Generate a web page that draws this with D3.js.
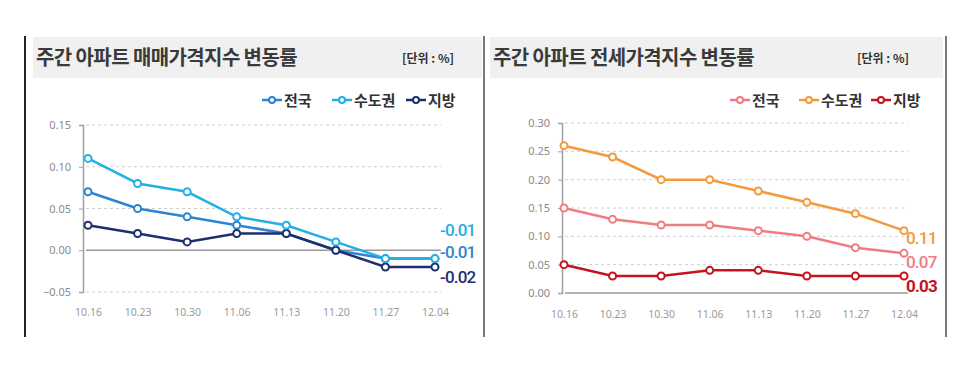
<!DOCTYPE html>
<html>
<head>
<meta charset="utf-8">
<script src="https://cdn.jsdelivr.net/npm/d3@7"></script>
<style>
  body { margin: 0; background: #fff; }
  text { font-family: "Noto Sans CJK KR", "Noto Sans", sans-serif; }
</style>
</head>
<body>
<script>
// dates shared by both charts
const dates = ["10.16", "10.23", "10.30", "11.06", "11.13", "11.20", "11.27", "12.04"]
const seriesNames = ["전국", "수도권", "지방"]

// 매매 (sale) weekly change, %
const saleNational = [0.07, 0.05, 0.04, 0.03, 0.02, 0.00, -0.01, -0.01]
const saleCapital  = [0.11, 0.08, 0.07, 0.04, 0.03, 0.01, -0.01, -0.01]
const saleLocal    = [0.03, 0.02, 0.01, 0.02, 0.02, 0.00, -0.02, -0.02]
const saleTicks = [0.15, 0.10, 0.05, 0.00, -0.05]
const saleEndLabels = ["-0.01", "-0.01", "-0.02"]

// 전세 (jeonse) weekly change, %
const rentNational = [0.15, 0.13, 0.12, 0.12, 0.11, 0.10, 0.08, 0.07]
const rentCapital  = [0.26, 0.24, 0.20, 0.20, 0.18, 0.16, 0.14, 0.11]
const rentLocal    = [0.05, 0.03, 0.03, 0.04, 0.04, 0.03, 0.03, 0.03]
const rentTicks = [0.30, 0.25, 0.20, 0.15, 0.10, 0.05, 0.00]
const rentEndLabels = ["0.11", "0.07", "0.03"]

width = 968
height = 369

svg = d3.select("body")
    .append("svg")
    .attr("width", width)
    .attr("height", height)

// frame lines
svg.append("rect").attr("x", 24).attr("y", 36).attr("width", 2).attr("height", 301).attr("fill", "#222")
svg.append("rect").attr("x", 483).attr("y", 36).attr("width", 2).attr("height", 301).attr("fill", "#777")
svg.append("rect").attr("x", 945).attr("y", 36).attr("width", 2).attr("height", 301).attr("fill", "#777")

function drawPanel(opt) {
    let g = svg.append("g")

    // title band
    g.append("rect")
        .attr("x", opt.bandX).attr("y", 37)
        .attr("width", opt.bandW).attr("height", 41)
        .attr("fill", "#f0f0f0")
    g.append("text")
        .attr("x", opt.bandX + 3).attr("y", 65)
        .attr("font-size", 20).attr("font-weight", 700)
        .attr("letter-spacing", -0.6)
        .attr("fill", "#3a3a3a")
        .text(opt.title)
    g.append("text")
        .attr("x", opt.unitX).attr("y", 63)
        .attr("font-size", 12).attr("font-weight", 700)
        .attr("fill", "#333")
        .text("[단위 : %]")

    let xScale = d3.scalePoint().domain(dates).range(opt.xRange)
    let yScale = d3.scaleLinear().domain(opt.yDomain).range(opt.yRange)

    // gridlines
    g.selectAll(".grid")
        .data(opt.ticks)
        .enter()
        .append("line")
        .attr("x1", opt.axisX + 3).attr("x2", opt.gridEnd)
        .attr("y1", d => yScale(d)).attr("y2", d => yScale(d))
        .attr("stroke", d => d == 0 ? "#9a9a9a" : "#cfcfcf")
        .attr("stroke-width", d => d == 0 ? 1.5 : 1)
        .attr("stroke-dasharray", d => d == 0 ? null : "3,3")

    // y axis
    let yAxis = d3.axisLeft(yScale).tickValues(opt.ticks).tickSize(4).tickFormat(d3.format(".2f"))
    let ya = g.append("g")
        .attr("transform", "translate(" + opt.axisX + ",0)")
        .call(yAxis)
    ya.select(".domain").attr("stroke", "#a0a0a0").attr("stroke-width", 1.5)
    ya.selectAll(".tick line").attr("stroke", "#a0a0a0")
    ya.selectAll(".tick text")
        .attr("fill", "#8a8a8a").attr("font-size", 11)
        .attr("x", -12)
        .style("font-family", "'Noto Sans', sans-serif")

    // x labels
    let xAxis = d3.axisBottom(xScale).tickSize(0).tickPadding(0)
    let xa = g.append("g")
        .attr("transform", "translate(0," + opt.xLabelY + ")")
        .call(xAxis)
    xa.select(".domain").remove()
    xa.selectAll(".tick text")
        .attr("fill", "#9a9a9a").attr("font-size", 10.5)
        .attr("dy", 0)
        .style("font-family", "'Noto Sans', sans-serif")

    // lines
    let line = d3.line()
        .x((d, i) => xScale(dates[i]))
        .y(d => yScale(d))

    opt.order.forEach(function(k) {
        let vals = opt.series[k]
        g.append("path")
            .datum(vals)
            .attr("d", line)
            .attr("fill", "none")
            .attr("stroke", opt.colors[k])
            .attr("stroke-width", 2.5)
        g.selectAll("empty")
            .data(vals)
            .enter()
            .append("circle")
            .attr("cx", (d, i) => xScale(dates[i]))
            .attr("cy", d => yScale(d))
            .attr("r", 3.5)
            .attr("fill", "#fff")
            .attr("stroke", opt.colors[k])
            .attr("stroke-width", 2)
    })

    // end labels
    opt.endLabels.forEach(function(t, i) {
        g.append("text")
            .attr("x", opt.endX).attr("y", opt.endY[i])
            .attr("font-size", 17)
            .attr("font-weight", i == 2 && opt.boldLast ? 700 : 500)
            .attr("letter-spacing", -0.8)
            .attr("fill", opt.colors[opt.endOrder[i]])
            .style("font-family", "'Liberation Sans Narrow', 'Roboto', sans-serif")
            .text(t)
    })

    // legend
    seriesNames.forEach(function(name, i) {
        let lx = opt.legendX[i]
        g.append("line")
            .attr("x1", lx).attr("x2", lx + 20)
            .attr("y1", 100).attr("y2", 100)
            .attr("stroke", opt.colors[i]).attr("stroke-width", 2.5)
        g.append("circle")
            .attr("cx", lx + 10).attr("cy", 100).attr("r", 3)
            .attr("fill", "#fff")
            .attr("stroke", opt.colors[i]).attr("stroke-width", 2)
        g.append("text")
            .attr("x", lx + 22).attr("y", 105.5)
            .attr("font-size", 15).attr("font-weight", 700)
            .attr("fill", "#333")
            .text(name)
    })
}

drawPanel({
    title: "주간 아파트 매매가격지수 변동률",
    bandX: 33, bandW: 449, unitX: 402,
    xRange: [88, 435], yDomain: [-0.05, 0.15], yRange: [292, 125],
    ticks: saleTicks, axisX: 83, gridEnd: 441, xLabelY: 316,
    series: [saleNational, saleCapital, saleLocal],
    colors: ["#2e84d0", "#22b0e6", "#1e2f6e"],
    order: [0, 2, 1],
    endLabels: saleEndLabels, endOrder: [1, 0, 2],
    endX: 440, endY: [236, 258, 283], boldLast: false,
    legendX: [262, 332, 406]
})

drawPanel({
    title: "주간 아파트 전세가격지수 변동률",
    bandX: 490, bandW: 453, unitX: 857,
    xRange: [564, 904], yDomain: [0, 0.30], yRange: [293, 123],
    ticks: rentTicks, axisX: 562, gridEnd: 908, xLabelY: 318,
    series: [rentNational, rentCapital, rentLocal],
    colors: ["#f07c82", "#f29a3c", "#c4141e"],
    order: [0, 1, 2],
    endLabels: rentEndLabels, endOrder: [1, 0, 2],
    endX: 906, endY: [244, 268, 292], boldLast: true,
    legendX: [730, 799, 871]
})
</script>
</body>
</html>
